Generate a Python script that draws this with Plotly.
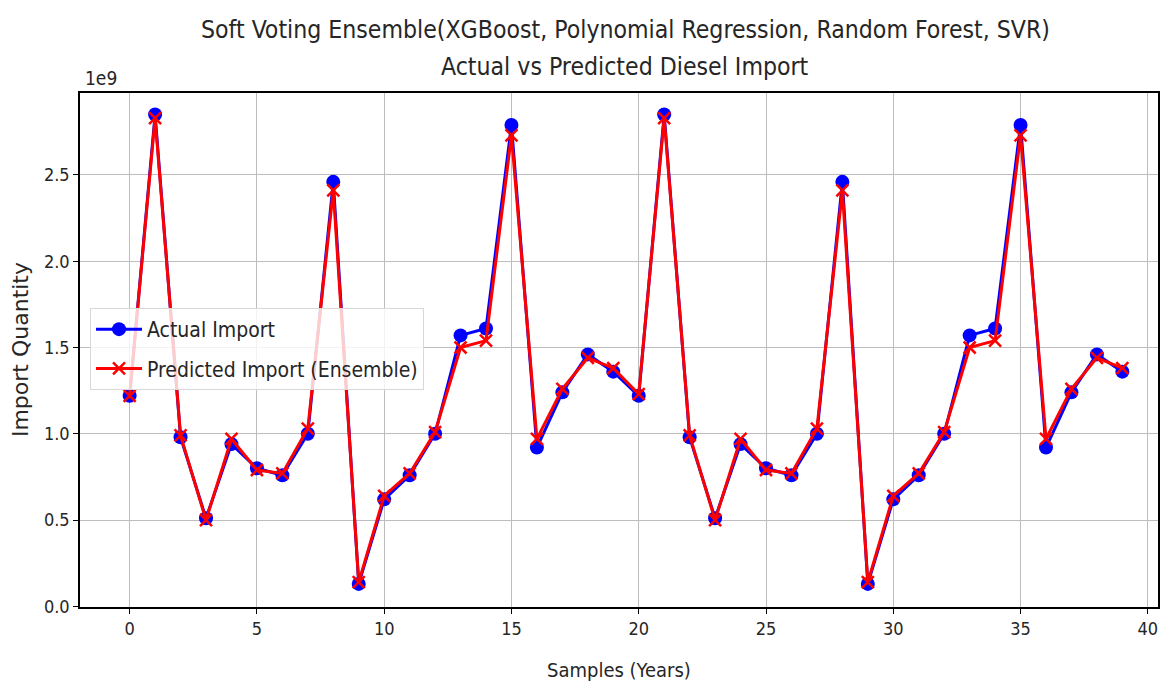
import plotly.graph_objects as go

# values in units of 1e9
samples = list(range(40))
actual_import = [1.22, 2.85, 0.98, 0.51, 0.94, 0.80, 0.76, 1.00, 2.46, 0.13,
                 0.62, 0.76, 1.00, 1.57, 1.61, 2.79, 0.92, 1.24, 1.46, 1.36,
                 1.22, 2.85, 0.98, 0.51, 0.94, 0.80, 0.76, 1.00, 2.46, 0.13,
                 0.62, 0.76, 1.00, 1.57, 1.61, 2.79, 0.92, 1.24, 1.46, 1.36]
predicted_import = [1.22, 2.83, 0.99, 0.50, 0.97, 0.79, 0.77, 1.03, 2.41, 0.14,
                    0.64, 0.77, 1.01, 1.50, 1.54, 2.73, 0.97, 1.26, 1.44, 1.38,
                    1.23, 2.83, 0.99, 0.50, 0.97, 0.79, 0.77, 1.03, 2.41, 0.14,
                    0.64, 0.77, 1.01, 1.50, 1.54, 2.73, 0.97, 1.26, 1.44, 1.38]
x_ticks = [0, 5, 10, 15, 20, 25, 30, 35, 40]
y_ticks = [0.0, 0.5, 1.0, 1.5, 2.0, 2.5]
y_tick_text = ["0.0", "0.5", "1.0", "1.5", "2.0", "2.5"]

NARROW = "Liberation Sans Narrow, DejaVu Sans Condensed, Arial Narrow, DejaVu Sans"
TXT = "#262626"

fig = go.Figure()
fig.add_trace(go.Scatter(
    x=samples, y=actual_import, mode="lines+markers", name="Actual Import",
    legendgroup="a",
    line=dict(color="#0000ff", width=3),
    marker=dict(symbol="circle", size=14, color="#0000ff"),
))
fig.add_trace(go.Scatter(
    x=samples, y=predicted_import, mode="lines+markers", name="Predicted Import (Ensemble)",
    legendgroup="b",
    line=dict(color="#ff0000", width=3),
    marker=dict(symbol="x-thin", size=12, line=dict(color="#ff0000", width=2.5), color="#ff0000"),
))

axis_common = dict(
    showline=True, linecolor="#000000", linewidth=1.5, mirror=True,
    showgrid=True, gridcolor="#bdbdbd", gridwidth=1.2,
    ticks="outside", ticklen=5, tickcolor="#000000", tickwidth=1,
    zeroline=False, tickfont=dict(family=NARROW, size=18, color=TXT),
)

fig.update_layout(
    width=1163, height=684,
    margin=dict(l=80, r=3, t=93, b=77),
    paper_bgcolor="white", plot_bgcolor="white",
    showlegend=True,
    legend=dict(
        x=0.0093, y=0.5817, xanchor="left", yanchor="top",
        bgcolor="rgba(255,255,255,0.8)", bordercolor="#d8d8d8", borderwidth=1,
        font=dict(family=NARROW, size=21, color=TXT),
        itemwidth=46, tracegroupgap=9,
    ),
    xaxis=dict(range=[-1.95, 40.4], tickvals=x_ticks, **axis_common),
    yaxis=dict(range=[-0.004, 2.975], tickvals=y_ticks, ticktext=y_tick_text, **axis_common),
    annotations=[
        dict(text="Soft Voting Ensemble(XGBoost, Polynomial Regression, Random Forest, SVR)",
             xref="paper", yref="paper", x=0.5056, y=1.1226, xanchor="center", yanchor="middle",
             showarrow=False, font=dict(family=NARROW, size=24.6, color=TXT)),
        dict(text="Actual vs Predicted Diesel Import",
             xref="paper", yref="paper", x=0.5056, y=1.0506, xanchor="center", yanchor="middle",
             showarrow=False, font=dict(family=NARROW, size=24.6, color=TXT)),
        dict(text="1e9", xref="paper", yref="paper", x=0.0028, y=1.029,
             xanchor="left", yanchor="middle", showarrow=False,
             font=dict(family=NARROW, size=19, color=TXT)),
        dict(text="Samples (Years)", xref="paper", yref="paper", x=0.5, y=-0.1226,
             xanchor="center", yanchor="middle", showarrow=False,
             font=dict(family=NARROW, size=20, color=TXT)),
        dict(text="Import Quantity", xref="paper", yref="paper", x=-0.0556, y=0.5,
             xanchor="center", yanchor="middle", textangle=-90, showarrow=False,
             font=dict(family="DejaVu Sans", size=22, color=TXT)),
    ],
)

fig.write_html("out.html")
